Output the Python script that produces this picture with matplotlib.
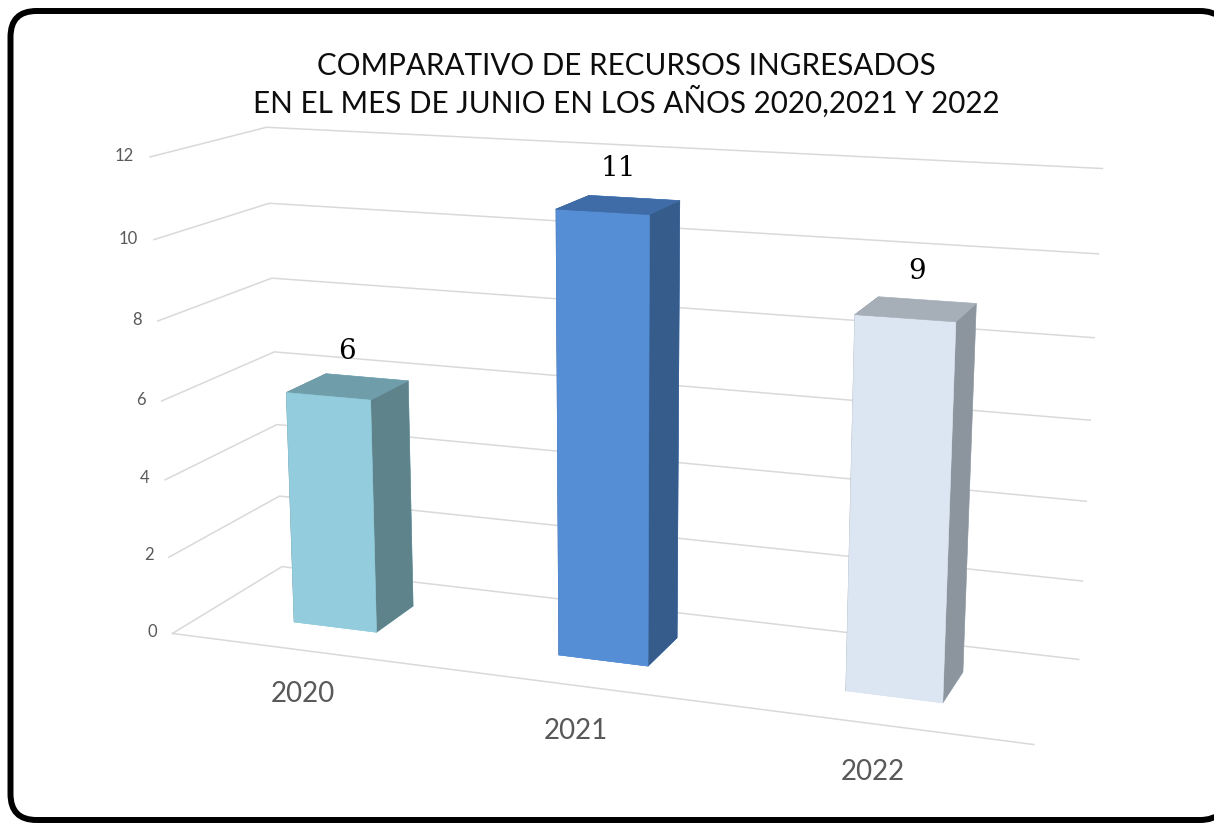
import numpy as np
import matplotlib.pyplot as plt
from matplotlib.patches import FancyBboxPatch, Polygon
from matplotlib.transforms import IdentityTransform
from mpl_toolkits.mplot3d import proj3d

# datos
years = ['2020', '2021', '2022']
values = [6, 11, 9]
ticks = [0, 2, 4, 6, 8, 10, 12]
title = 'COMPARATIVO DE RECURSOS INGRESADOS\nEN EL MES DE JUNIO EN LOS AÑOS 2020,2021 Y 2022'

# colores: frente, lado, tapa
front = ['#93CDDD', '#558ED5', '#DCE6F2']
side = ['#5E838B', '#365C8C', '#8C949D']
top = ['#6F9DA9', '#3F6BA6', '#A6AFB8']

W, H = 1214, 823
fig = plt.figure(figsize=(W / 100, H / 100), dpi=100)
# eje 3d cuadrado grande para que nada quede recortado
side_px = 1150
cx, cy = 603 / W, 1 - 426 / H
ax = fig.add_axes([cx - side_px / W / 2, cy - side_px / H / 2, side_px / W, side_px / H],
                  projection='3d', computed_zorder=False)

xmin, xmax = -0.5, 2.5
ymin, ymax = 0.0, 0.83
ax.set_xlim(xmin, xmax)
ax.set_ylim(ymin, ymax)
ax.set_zlim(0, 12)
ax.set_box_aspect((3.07, 0.83, 1.70), zoom=0.892)
ax.view_init(elev=14, azim=-70)
ax.set_proj_type('persp', focal_length=0.39)
ax.set_axis_off()

grid = '#D9D9D9'
for t in ticks:
    ax.plot([xmin, xmin, xmax], [ymin, ymax, ymax], [t, t, t], color=grid, lw=1.1, zorder=1)
ax.plot([xmin, xmax], [ymin, ymin], [0, 0], color=grid, lw=1.1, zorder=1)

w, d = 0.32, 0.31
yc = (ymin + ymax) / 2
for i, v in enumerate(values):
    # orden de caras: abajo, arriba, -y, +y, -x, +x
    cols = [front[i], top[i], front[i], front[i], side[i], side[i]]
    ax.bar3d(i - w / 2, yc - d / 2, 0, w, d, v, color=cols, edgecolor=cols,
             linewidth=0.4, shade=False, zorder=3)

# textos: se proyectan los puntos 3d a 2d con la matriz de la vista
fig.canvas.draw()
M = ax.get_proj()


def label(x, y, z, s, **kw):
    px, py, _ = proj3d.proj_transform(x, y, z, M)
    ax.text2D(px, py, s, transform=ax.transData, **kw)


for t in ticks:
    label(xmin - 0.06, ymin, t, str(t), ha='right', va='center', fontsize=12,
          color='#595959', family='Lato', zorder=5)
for i, v in enumerate(values):
    label(i, yc, v + 0.55, str(v), ha='center', va='bottom', fontsize=20,
          family='DejaVu Serif', color='black', zorder=6)
    label(i, ymin, -1.15, years[i], ha='center', va='center', fontsize=20,
          family='Lato', color='#595959', zorder=5)

fig.text(0.516, 0.897, title, ha='center', va='center', fontsize=21.3,
         family='Lato', color='#0D0D0D', linespacing=1.2)

# marco redondeado (convertido a poligono para que el recorte fuera del lienzo no falle)
box = FancyBboxPatch((10.5, 3), 1215.5, 809, boxstyle='round,pad=0,rounding_size=26')
verts = box.get_path().to_polygons()[0]
frame = Polygon(verts, closed=True, transform=IdentityTransform(), fill=False,
                ec='black', lw=4.3, joinstyle='round')
fig.add_artist(frame)

fig.savefig('out.png', dpi=100, facecolor='white')
